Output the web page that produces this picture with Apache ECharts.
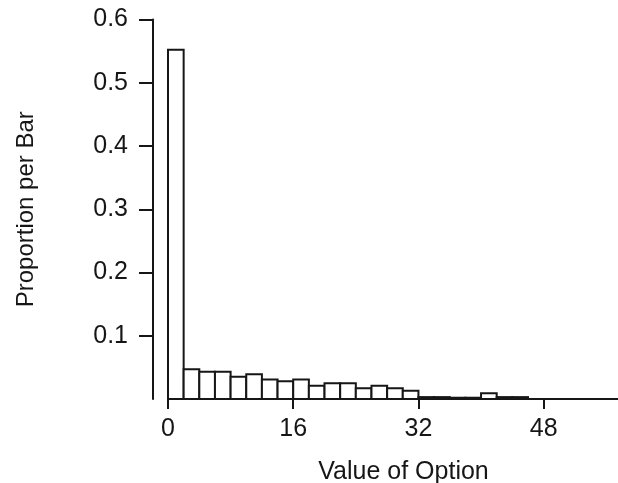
<!DOCTYPE html>
<html>
<head>
<meta charset="utf-8">
<script src="https://cdn.jsdelivr.net/npm/echarts@6/dist/echarts.min.js"></script>
<style>
html,body{margin:0;padding:0;background:#fff;}
#chart{width:618px;height:483px;}
</style>
</head>
<body>
<div id="chart"></div>
<script>
// Histogram bins (value of option), width 2
var binStart = [0,2,4,6,8,10,12,14,16,18,20,22,24,26,28,30,32,34,36,38,40,42,44];
var binEnd   = [2,4,6,8,10,12,14,16,18,20,22,24,26,28,30,32,34,36,38,40,42,44,46];
var proportion = [0.552,0.047,0.043,0.043,0.035,0.039,0.031,0.028,0.031,0.021,0.025,0.025,0.017,0.021,0.017,0.013,0.003,0.003,0.002,0.002,0.009,0.003,0.003];
var yTicks = [0.1,0.2,0.3,0.4,0.5,0.6];
var xTicks = [0,16,32,48];

var data = binStart.map(function(s,i){ return [s, binEnd[i], proportion[i]]; });

var chart = echarts.init(document.getElementById('chart'));
var font = 'Liberation Sans, Arial, Helvetica, sans-serif';
var ink = '#161616';
chart.setOption({
  animation:false,
  grid:{left:168, right:0, top:19.5, bottom:84, containLabel:false, outerBoundsMode:'none'},
  xAxis:{
    type:'value', min:0, max:57.5,
    name:'Value of Option', nameLocation:'middle', nameGap:61,
    nameTextStyle:{fontFamily:font, fontSize:25, color:ink, padding:[0,0,0,21]},
    axisLine:{show:true, onZero:false, lineStyle:{color:ink, width:2}},
    axisTick:{show:true, length:10, lineStyle:{color:ink, width:2}, customValues:xTicks},
    axisLabel:{fontFamily:font, fontSize:25, color:ink, margin:18, customValues:xTicks},
    splitLine:{show:false}
  },
  yAxis:{
    type:'value', min:0, max:0.6, offset:15,
    name:'Proportion per Bar', nameLocation:'middle', nameGap:115,
    nameTextStyle:{fontFamily:font, fontSize:24, color:ink},
    axisLine:{show:true, onZero:false, lineStyle:{color:ink, width:2}},
    axisTick:{show:true, length:14, lineStyle:{color:ink, width:2}, customValues:yTicks},
    axisLabel:{fontFamily:font, fontSize:25, color:ink, margin:25, customValues:yTicks,
      formatter:function(v){return v.toFixed(1);}},
    splitLine:{show:false}
  },
  series:[{
    type:'custom',
    data:data,
    encode:{x:[0,1], y:2},
    renderItem:function(params, api){
      var p0 = api.coord([api.value(0), api.value(2)]);
      var p1 = api.coord([api.value(1), 0]);
      return {type:'rect', shape:{x:p0[0], y:p0[1], width:p1[0]-p0[0], height:p1[1]-p0[1]},
        style:{fill:'#fff', stroke:ink, lineWidth:2}};
    }
  }]
});
</script>
</body>
</html>
